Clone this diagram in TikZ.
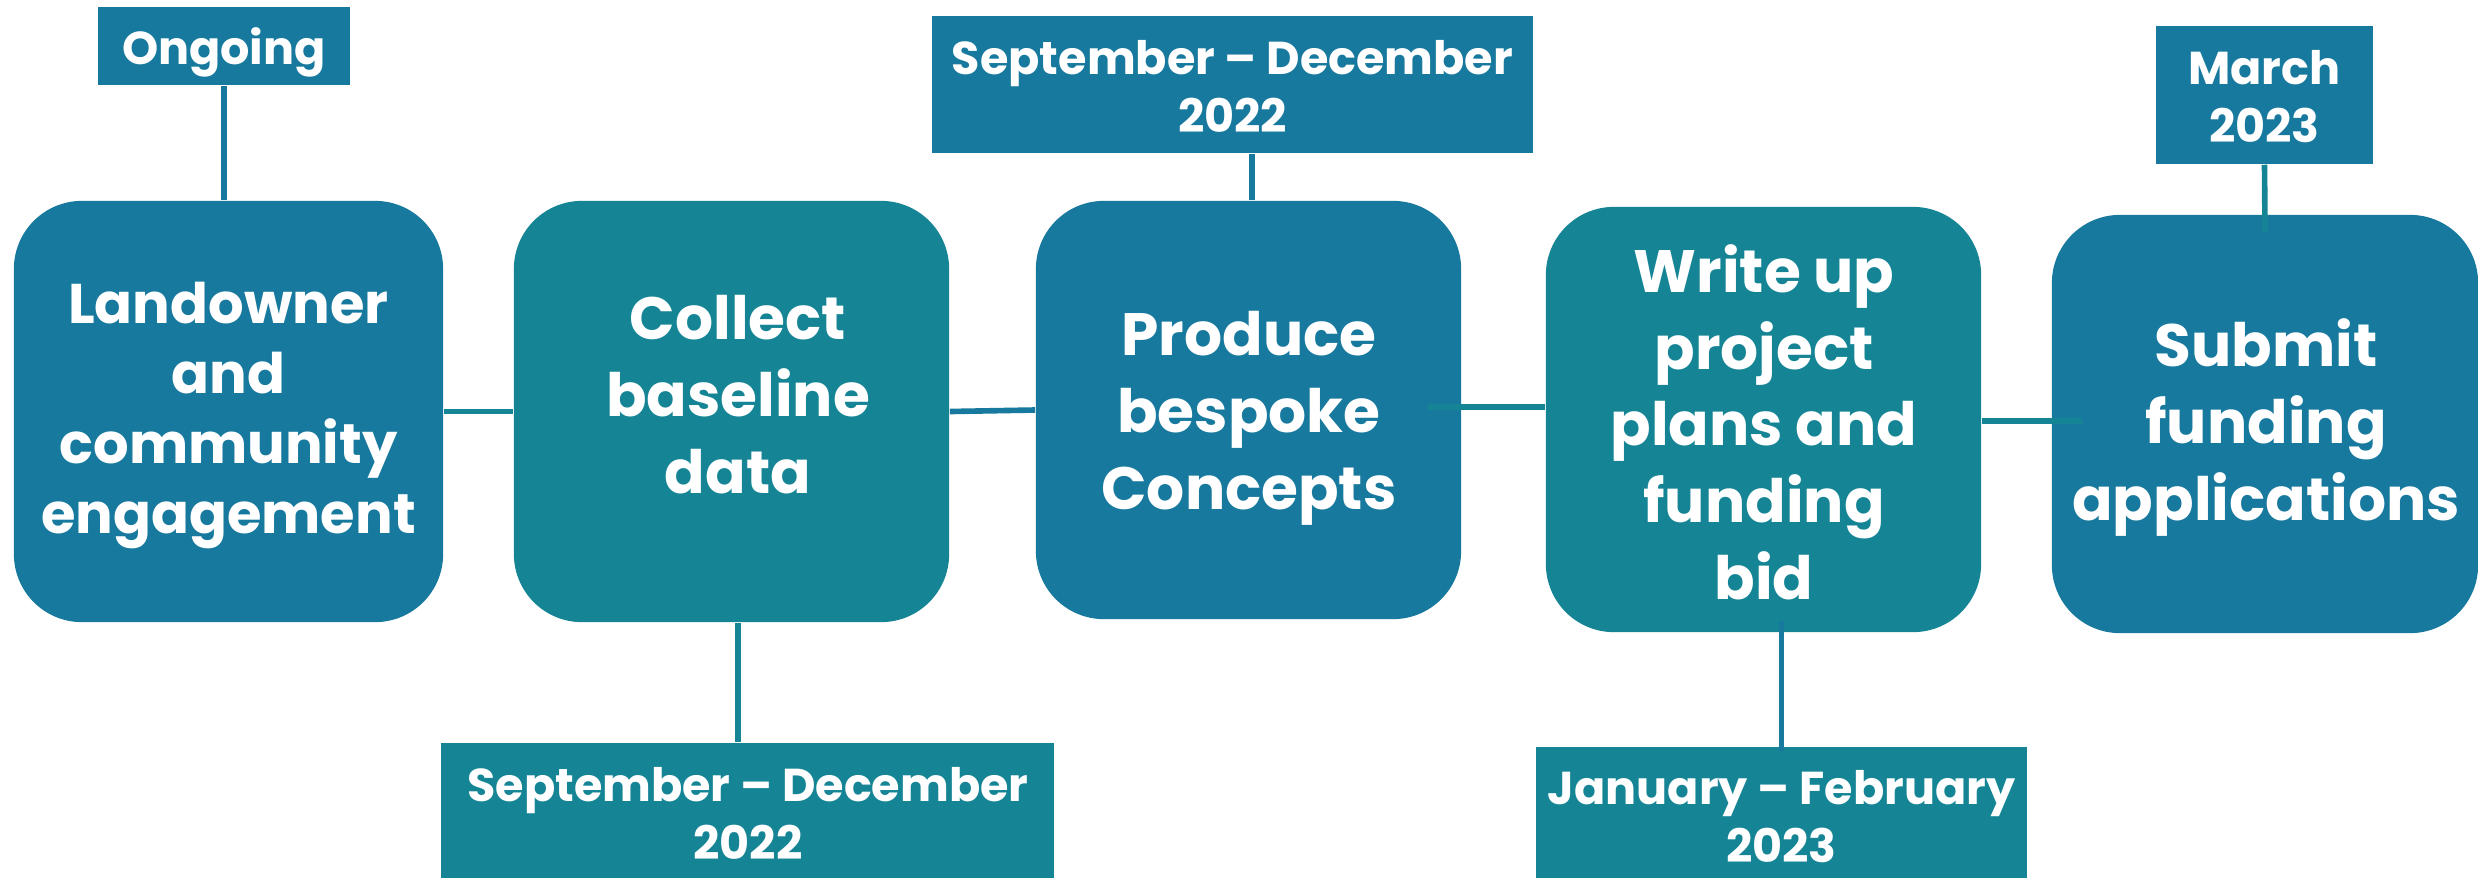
\documentclass[tikz,border=0pt]{standalone}
\usepackage{fontspec}
\setmainfont{Poppins}
\usetikzlibrary{calc}
\definecolor{cblue}{RGB}{24,121,158}
\definecolor{cteal}{RGB}{21,133,150}
\tikzset{
  mainbox/.style={rectangle, rounded corners=0.68cm, fill=#1, draw=none, inner sep=0pt},
  datebox/.style={rectangle, fill=#1, draw=none, inner sep=0pt},
  maintext/.style={text=white, align=center, anchor=base, inner sep=0pt,
    font=\fontsize{17pt}{21.8pt}\selectfont\bfseries},
  firsttext/.style={text=white, align=center, anchor=base, inner sep=0pt,
    font=\fontsize{15.9pt}{19.9pt}\selectfont\bfseries},
  datetext/.style={text=white, align=center, anchor=base, inner sep=0pt,
    font=\fontsize{13.1pt}{16.4pt}\selectfont\bfseries},
  cn/.style={draw=#1, line width=1.6pt}
}
\begin{document}
\begin{tikzpicture}[x=0.01cm, y=-0.01cm]
\fill[white] (0,0) rectangle (2478,878);
\useasboundingbox (0,0) rectangle (2478,878);

% main boxes
\node[mainbox=cblue, minimum width=4.29cm, minimum height=4.21cm] (b1) at (228.5,411.5) {};
\node[mainbox=cteal, minimum width=4.35cm, minimum height=4.21cm] (b2) at (731.5,411.5) {};
\node[mainbox=cblue, minimum width=4.25cm, minimum height=4.18cm] (b3) at (1248.5,410) {};
\node[mainbox=cteal, minimum width=4.35cm, minimum height=4.25cm] (b4) at (1763.5,419.5) {};
\node[mainbox=cblue, minimum width=4.26cm, minimum height=4.18cm] (b5) at (2265,424) {};

% date boxes
\node[datebox=cblue, minimum width=2.52cm, minimum height=0.78cm] (on) at (224,46) {};
\node[datebox=cblue, minimum width=6.01cm, minimum height=1.37cm] (st) at (1232.5,84.5) {};
\node[datebox=cblue, minimum width=2.17cm, minimum height=1.38cm] (mr) at (2264.5,95) {};
\node[datebox=cteal, minimum width=6.13cm, minimum height=1.35cm] (sb) at (747.5,810.5) {};
\node[datebox=cteal, minimum width=4.91cm, minimum height=1.31cm] (jf) at (1781.5,812.5) {};

% connectors
\draw[cn=cblue] (on.south) -- (on.south |- b1.north);
\draw[cn=cteal] (b1.east) -- (b2.west);
\draw[cn=cblue] (b2.east) -- (b3.west);
\draw[cn=cblue] ([shift={(3.5,0)}]b3.north) -- ($(b3.north |- st.south)+(3.5,0)$);
\draw[cn=cteal] ([shift={(6.5,0)}]b2.south) -- ($(b2.south |- sb.north)+(6.5,0)$);
\draw[cn=cteal] ([shift={(-34,-3)}]b3.east) -- ([shift={(0,-12.5)}]b4.west);
\draw[cn=cblue] ($(jf.north)+(0,5)$) -- ($(jf.north |- b4.south)+(0,-12)$);
\draw[cn=cteal] ([shift={(0,1.5)}]b4.east) -- ([shift={(31,-3)}]b5.west);
\draw[cn=cteal] (mr.south) -- ([shift={(0,18)}]b5.north);

% texts (anchor base = baseline of the last line)
\node[firsttext] (t1) at (228.5,533) {Landowner\\and\\community\\engagement};
\node[maintext] (t2) at (738,493) {Collect\\baseline\\data};
\node[maintext] (t3) at (1249,509) {Produce\\bespoke\\Concepts};
\node[maintext] (t4) at (1764,599) {Write up\\project\\plans and\\funding\\bid};
\node[maintext] (t5) at (2266,520) {Submit\\funding\\applications};

\node[datetext] (ton) at (224,64) {Ongoing};
\node[datetext] (tst) at (1232.5,132) {September – December\\2022};
\node[datetext] (tmr) at (2264.5,142) {March\\2023};
\node[datetext] (tsb) at (748,859) {September – December\\2022};
\node[datetext] (tjf) at (1781.5,862) {January – February\\2023};
\end{tikzpicture}
\end{document}
